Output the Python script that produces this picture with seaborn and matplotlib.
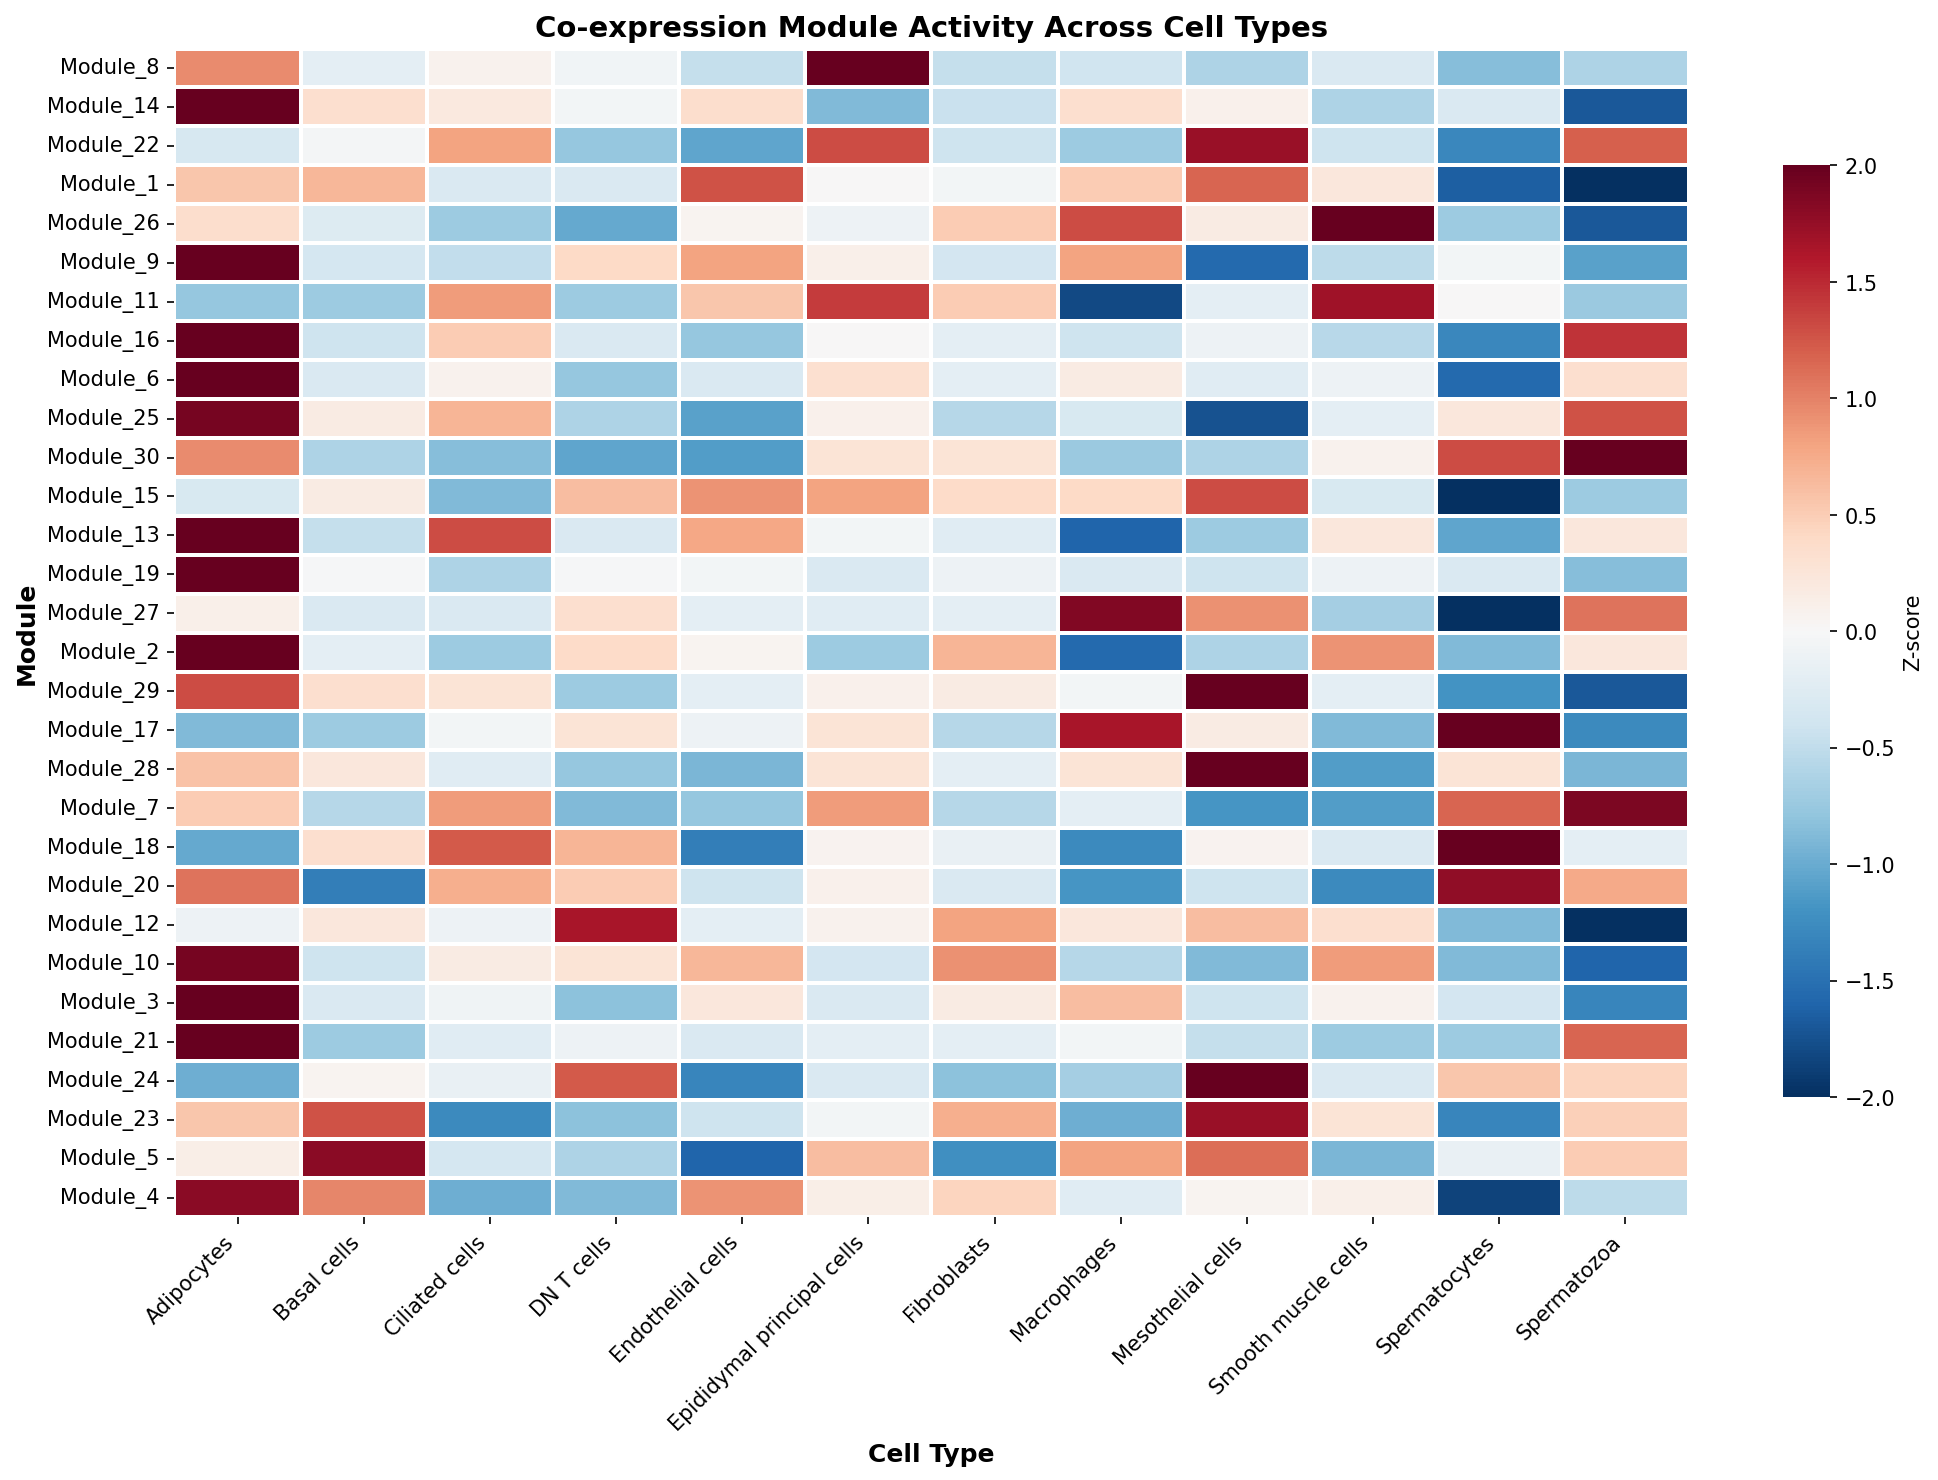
import pandas as pd
import matplotlib.pyplot as plt
import seaborn as sns

cell_types = ["Adipocytes", "Basal cells", "Ciliated cells", "DN T cells", "Endothelial cells",
              "Epididymal principal cells", "Fibroblasts", "Macrophages", "Mesothelial cells",
              "Smooth muscle cells", "Spermatocytes", "Spermatozoa"]

modules = ["Module_8", "Module_14", "Module_22", "Module_1", "Module_26", "Module_9", "Module_11",
           "Module_16", "Module_6", "Module_25", "Module_30", "Module_15", "Module_13", "Module_19",
           "Module_27", "Module_2", "Module_29", "Module_17", "Module_28", "Module_7", "Module_18",
           "Module_20", "Module_12", "Module_10", "Module_3", "Module_21", "Module_24", "Module_23",
           "Module_5", "Module_4"]

# z-scores, one row per module
zscores = [
    [0.95, -0.2, 0.08, -0.07, -0.48, 2.0, -0.47, -0.4, -0.62, -0.3, -0.85, -0.62],
    [2.0, 0.33, 0.2, -0.05, 0.35, -0.88, -0.45, 0.33, 0.1, -0.62, -0.3, -1.7],
    [-0.33, -0.04, 0.8, -0.78, -1.05, 1.3, -0.42, -0.72, 1.72, -0.42, -1.3, 1.2],
    [0.55, 0.67, -0.3, -0.3, 1.27, 0.0, -0.05, 0.5, 1.17, 0.22, -1.65, -2.0],
    [0.35, -0.28, -0.72, -1.03, 0.05, -0.1, 0.5, 1.3, 0.17, 2.0, -0.72, -1.7],
    [2.0, -0.35, -0.5, 0.4, 0.8, 0.12, -0.37, 0.8, -1.55, -0.52, -0.05, -1.08],
    [-0.78, -0.72, 0.85, -0.72, 0.55, 1.4, 0.5, -1.8, -0.2, 1.7, 0.0, -0.75],
    [2.0, -0.42, 0.5, -0.3, -0.78, 0.0, -0.2, -0.42, -0.1, -0.55, -1.3, 1.45],
    [2.0, -0.3, 0.08, -0.78, -0.3, 0.32, -0.2, 0.17, -0.25, -0.1, -1.55, 0.33],
    [1.92, 0.17, 0.68, -0.62, -1.08, 0.1, -0.57, -0.32, -1.75, -0.2, 0.22, 1.28],
    [0.95, -0.62, -0.85, -1.05, -1.12, 0.27, 0.28, -0.75, -0.62, 0.08, 1.3, 2.0],
    [-0.32, 0.17, -0.88, 0.62, 0.9, 0.8, 0.38, 0.4, 1.3, -0.32, -2.0, -0.72],
    [2.0, -0.47, 1.3, -0.3, 0.78, -0.05, -0.25, -1.6, -0.72, 0.22, -1.05, 0.22],
    [2.0, -0.02, -0.62, -0.02, -0.05, -0.3, -0.1, -0.3, -0.42, -0.1, -0.3, -0.85],
    [0.12, -0.3, -0.3, 0.33, -0.2, -0.25, -0.2, 1.85, 0.92, -0.68, -2.0, 1.08],
    [2.0, -0.2, -0.72, 0.38, 0.06, -0.72, 0.68, -1.55, -0.62, 0.9, -0.88, 0.22],
    [1.3, 0.33, 0.27, -0.72, -0.2, 0.1, 0.17, -0.05, 2.0, -0.2, -1.2, -1.7],
    [-0.88, -0.72, -0.05, 0.28, -0.1, 0.28, -0.57, 1.65, 0.17, -0.88, 2.0, -1.28],
    [0.58, 0.22, -0.25, -0.78, -0.92, 0.28, -0.2, 0.27, 2.0, -1.12, 0.27, -0.92],
    [0.5, -0.57, 0.85, -0.88, -0.78, 0.85, -0.57, -0.2, -1.18, -1.12, 1.17, 1.88],
    [-1.02, 0.33, 1.22, 0.68, -1.38, 0.07, -0.15, -1.28, 0.07, -0.3, 2.0, -0.2],
    [1.08, -1.38, 0.72, 0.5, -0.42, 0.1, -0.3, -1.18, -0.42, -1.28, 1.78, 0.75],
    [-0.1, 0.22, -0.1, 1.65, -0.2, 0.08, 0.8, 0.22, 0.62, 0.33, -0.88, -2.0],
    [1.92, -0.42, 0.17, 0.28, 0.67, -0.37, 0.92, -0.57, -0.88, 0.85, -0.88, -1.6],
    [2.0, -0.3, -0.08, -0.82, 0.22, -0.3, 0.17, 0.62, -0.42, 0.08, -0.37, -1.32],
    [2.0, -0.72, -0.25, -0.1, -0.3, -0.2, -0.2, -0.05, -0.47, -0.72, -0.72, 1.17],
    [-0.98, 0.06, -0.15, 1.22, -1.32, -0.3, -0.82, -0.68, 2.0, -0.3, 0.55, 0.45],
    [0.55, 1.27, -1.28, -0.82, -0.42, -0.05, 0.72, -0.98, 1.72, 0.28, -1.32, 0.48],
    [0.13, 1.8, -0.35, -0.62, -1.6, 0.62, -1.22, 0.8, 1.12, -0.92, -0.15, 0.5],
    [1.8, 0.98, -0.98, -0.88, 0.9, 0.13, 0.45, -0.25, 0.05, 0.11, -1.85, -0.52],
]

df = pd.DataFrame(zscores, index=modules, columns=cell_types)

fig = plt.figure(figsize=(12.92, 9.873), dpi=150)
ax = fig.add_axes([0.0900, 0.1775, 0.7813, 0.7891])
cax = fig.add_axes([0.9200, 0.2586, 0.0243, 0.6293])

sns.heatmap(df, cmap="RdBu_r", center=0, vmin=-2, vmax=2, linewidths=1.0, linecolor="white",
            ax=ax, cbar_ax=cax, cbar_kws={"label": "Z-score"})

ax.set_title("Co-expression Module Activity Across Cell Types", fontsize=14, fontweight="bold")
ax.set_xlabel("Cell Type", fontsize=12, fontweight="bold")
ax.set_ylabel("Module", fontsize=12, fontweight="bold")
ax.tick_params(axis="both", labelsize=10)
plt.setp(ax.get_xticklabels(), rotation=45, ha="right")
plt.setp(ax.get_yticklabels(), rotation=0)

plt.savefig("out.png", dpi=150)
